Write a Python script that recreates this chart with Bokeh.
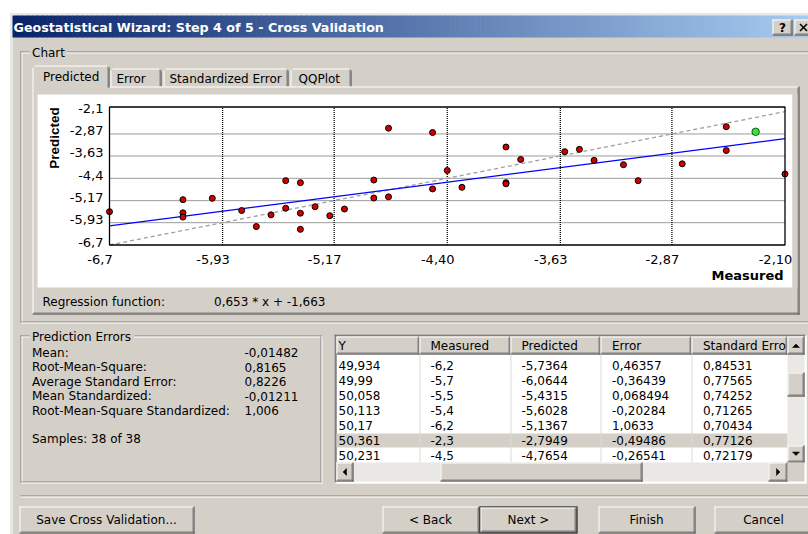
import math
from bokeh.plotting import figure
from bokeh.models import Range1d
from bokeh.core.properties import value
from bokeh.embed import file_html
from bokeh.resources import INLINE

# ---------------- chart data ----------------
measured = [-6.7, -6.2, -6.2, -6.2, -6.0, -5.8, -5.7, -5.6, -5.5, -5.5, -5.4, -5.4, -5.4, -5.3,
            -5.2, -5.1, -4.9, -4.9, -4.8, -4.8, -4.5, -4.5, -4.4, -4.3, -4.0, -4.0, -4.0, -3.9,
            -3.6, -3.5, -3.4, -3.2, -3.1, -2.8, -2.5, -2.5, -2.1]
predicted = [-5.55, -5.1367, -5.59, -5.7364, -5.09, -5.51, -6.0644, -5.66, -4.48, -5.4315, -4.55,
             -5.6028, -6.16, -5.38, -5.69, -5.46, -4.46, -5.08, -2.67, -5.04, -2.82, -4.7654, -4.13,
             -4.71, -3.32, -4.55, -4.59, -3.75, -3.48, -3.40, -3.78, -3.93, -4.48, -3.90, -2.62,
             -3.44, -4.25]
selected_measured = [-2.3]
selected_predicted = [-2.7949]

x_min, x_max = -6.7, -2.1
y_min, y_max = -6.7, -1.94
ticks_x = [-6.7, -5.93, -5.17, -4.40, -3.63, -2.87, -2.10]
tick_labels_x = ["-6,7", "-5,93", "-5,17", "-4,40", "-3,63", "-2,87", "-2,10"]
ticks_y = [-2.1, -2.87, -3.63, -4.4, -5.17, -5.93, -6.7]
tick_labels_y = ["-2,1", "-2,87", "-3,63", "-4,4", "-5,17", "-5,93", "-6,7"]
reg_slope = 0.653
reg_intercept = -1.663
reg_text = "0,653 * x + -1,663"

stat_names = ["Mean:", "Root-Mean-Square:", "Average Standard Error:", "Mean Standardized:",
              "Root-Mean-Square Standardized:"]
stat_values = ["-0,01482", "0,8165", "0,8226", "-0,01211", "1,006"]
samples_text = "Samples: 38 of 38"

table_headers = ["Y", "Measured", "Predicted", "Error", "Standard Erro"]
table_y = ["49,934", "49,99", "50,058", "50,113", "50,17", "50,361", "50,231"]
table_measured = ["-6,2", "-5,7", "-5,5", "-5,4", "-6,2", "-2,3", "-4,5"]
table_predicted = ["-5,7364", "-6,0644", "-5,4315", "-5,6028", "-5,1367", "-2,7949", "-4,7654"]
table_error = ["0,46357", "-0,36439", "0,068494", "-0,20284", "1,0633", "-0,49486", "-0,26541"]
table_stderr = ["0,84531", "0,77565", "0,74252", "0,71265", "0,70434", "0,77126", "0,72179"]
selected_row = 5

# ---------------- styles ----------------
FACE = "#D4D0C8"
DARK = "#404040"
SHADOW = "#808080"
HI = "#FFFFFF"
TRACK = "#EAE8E4"
FONT = "DejaVu Sans"

W, H = 808, 534
p = figure(width=W, height=H, x_range=Range1d(0, W), y_range=Range1d(H, 0),
           x_axis_type=None, y_axis_type=None, toolbar_location=None, output_backend="svg",
           min_border=0, title=None, background_fill_color="white",
           border_fill_color="white", outline_line_color=None)


def box(l, t, r, b, fill, line=None, lw=1):
    p.quad(left=[l], right=[r], top=[t], bottom=[b], fill_color=fill, line_color=line, line_width=lw)


def hl(x0, x1, y, c, w=1):
    p.segment(x0=[x0], y0=[y], x1=[x1], y1=[y], line_color=c, line_width=w)


def vl(x, y0, y1, c, w=1):
    p.segment(x0=[x], y0=[y0], x1=[x], y1=[y1], line_color=c, line_width=w)


def raised(l, t, r, b, fill=FACE):
    box(l, t, r, b, fill)
    hl(l, r, t + 0.5, HI)
    vl(l + 0.5, t, b, HI)
    hl(l, r, b - 0.5, DARK)
    vl(r - 0.5, t, b, DARK)
    hl(l + 1, r - 1, b - 1.5, SHADOW)
    vl(r - 1.5, t + 1, b - 1, SHADOW)


def sunken(l, t, r, b, fill="white"):
    box(l, t, r, b, fill)
    hl(l, r, t + 0.5, SHADOW)
    vl(l + 0.5, t, b, SHADOW)
    hl(l + 1, r - 1, t + 1.5, DARK)
    vl(l + 1.5, t + 1, b - 1, DARK)
    hl(l, r, b - 0.5, HI)
    vl(r - 0.5, t, b, HI)


def etched(l, t, r, b):
    hl(l, r, t + 0.5, SHADOW)
    vl(l + 0.5, t, b, SHADOW)
    hl(l, r, b - 1.5, SHADOW)
    vl(r - 1.5, t, b, SHADOW)
    hl(l + 1, r - 2, t + 1.5, HI)
    vl(l + 1.5, t + 1, b - 2, HI)
    hl(l, r, b - 0.5, HI)
    vl(r - 0.5, t, b, HI)


def txt(x, y, s, size=12, bold=False, color="black", align="left", baseline="middle", font=FONT, angle=0.0):
    p.text(x=[x], y=[y], text=[s], text_font=value(font), text_font_size=f"{size}px",
           text_font_style="bold" if bold else "normal", text_color=color,
           text_align=align, text_baseline=baseline, angle=angle)


def tri(pts, c="black"):
    p.patch(x=[q[0] for q in pts], y=[q[1] for q in pts], fill_color=c, line_color=c, line_width=0.5)


# ---------------- dialog frame ----------------
box(10, 13, 812, 540, FACE)
hl(11, 812, 14.5, HI)
vl(11.5, 14, 540, HI)

# title bar gradient
n = 160
c0 = (10, 36, 106)
c1 = (166, 202, 240)
tx0, tx1 = 12, 808
sw = (tx1 - tx0) / n
lefts = [tx0 + i * sw for i in range(n)]
rights = [tx0 + (i + 1) * sw + 0.6 for i in range(n)]
cols = []
for i in range(n):
    t = i / (n - 1)
    cols.append("#%02x%02x%02x" % tuple(int(round(c0[k] + (c1[k] - c0[k]) * t)) for k in range(3)))
p.quad(left=lefts, right=rights, top=[15] * n, bottom=[37] * n, fill_color=cols, line_color=None)
txt(13, 26.5, "Geostatistical Wizard: Step 4 of 5 - Cross Validation", size=12.7, bold=True, color="white")

raised(772, 19, 792, 35)
txt(782, 27.5, "?", size=12, bold=True, align="center")
raised(794, 19, 814, 35)
p.segment(x0=[799.5, 806.5], y0=[23.5, 23.5], x1=[806.5, 799.5], y1=[30.5, 30.5], line_color="black", line_width=1.6)

# ---------------- Chart group + tabs ----------------
etched(20, 51, 814, 323)
box(29, 44, 66, 59, FACE)
txt(31.5, 52, "Chart")


def tab(l, t, r, b):
    box(l, t, r, b, FACE)
    hl(l + 2, r - 2, t + 0.5, HI)
    vl(l + 0.5, t + 2, b, HI)
    vl(r - 0.5, t + 2, b, DARK)
    vl(r - 1.5, t + 1, b, SHADOW)


tab(110, 68, 161, 87)
tab(163, 68, 288, 87)
tab(290, 68, 351, 87)

box(32, 86, 799, 314, FACE)
hl(32, 799, 86.5, HI)
vl(32.5, 86, 314, HI)
vl(798.5, 86, 314, DARK)
vl(797.5, 87, 313, SHADOW)
hl(32, 799, 313.5, DARK)
hl(33, 798, 312.5, SHADOW)

# selected tab
box(32, 65, 109, 88, FACE)
hl(34, 107, 65.5, HI)
vl(32.5, 67, 88, HI)
vl(108.5, 67, 87, DARK)
vl(107.5, 66, 87, SHADOW)

txt(42.5, 76.5, "Predicted")
txt(116, 78, "Error")
txt(169, 78, "Standardized Error")
txt(298, 78, "QQPlot")

# chart area
box(37, 94, 792, 287, "white")

# ---------------- scatter plot (sub-coordinates) ----------------
xy = p.subplot(x_source=Range1d(x_min, x_max), y_source=Range1d(y_min, y_max),
               x_target=Range1d(109, 784.5), y_target=Range1d(244.5, 106.5))

inner_y = ticks_y[1:-1]
inner_x = ticks_x[1:-1]
xy.segment(x0=[x_min] * len(inner_y), x1=[x_max] * len(inner_y), y0=inner_y, y1=inner_y,
           line_color="#3a3a3a", line_dash="1 1", line_width=1)
xy.segment(x0=inner_x, x1=inner_x, y0=[y_min] * len(inner_x), y1=[y_max] * len(inner_x),
           line_color="#000000", line_dash="1 1", line_width=1.3)

ref_x = [x_min, x_max]
xy.line(x=ref_x, y=ref_x, line_color="#A0A0A0", line_dash="4 3", line_width=1.3)
reg_y = [reg_slope * v + reg_intercept for v in ref_x]
xy.line(x=ref_x, y=reg_y, line_color="#0000FF", line_width=1.3)

xy.scatter(x=measured, y=predicted, size=6, fill_color="#D00000", line_color="#000000", line_width=1)
xy.scatter(x=selected_measured, y=selected_predicted, size=7.5, fill_color="#35E635",
           line_color="#1E5A1E", line_width=1)

xy.quad(left=[x_min], right=[x_max], bottom=[y_min], top=[y_max], fill_color=None,
        line_color="black", line_width=1.3)

xy.text(x=ticks_x, y=[y_min] * len(ticks_x), text=tick_labels_x, x_offset=-9.5, y_offset=14,
        text_font=value(FONT), text_font_size="13px", text_align="center", text_baseline="middle",
        text_color="black")
xy.text(x=[x_min] * len(ticks_y), y=ticks_y, text=tick_labels_y, x_offset=-6, y_offset=-3,
        text_font=value(FONT), text_font_size="13px", text_align="right", text_baseline="middle",
        text_color="black")

txt(53.5, 137.5, "Predicted", size=13.5, bold=True, font="Liberation Sans", align="center", angle=math.pi / 2)
txt(783, 275, "Measured", size=13, bold=True, align="right")

# cover the right edge of the chart area (clips the last tick label as in the original)
box(792, 94, 797, 287, FACE)

txt(42, 301, "Regression function:")
txt(213.5, 301, reg_text)

# ---------------- Prediction errors ----------------
etched(20, 335, 322, 483)
box(29, 328, 134, 343, FACE)
txt(31.5, 336, "Prediction Errors")
stat_rows_y = [352, 366.5, 381, 395.5, 410]
for nm, vv, yy in zip(stat_names, stat_values, stat_rows_y):
    txt(31.5, yy, nm)
    txt(244, yy, vv)
txt(31.5, 438.5, samples_text)

# ---------------- table ----------------
sunken(334, 334, 806, 483, "white")
col_edges = [336, 419, 510, 600, 691, 787]
text_x = [338, 430, 521, 611.5, 702.5]
for i, h in enumerate(table_headers):
    raised(col_edges[i], 336, col_edges[i + 1], 354)
    txt(text_x[i], 345.5, h)

row_y = [365 + 15 * i for i in range(len(table_y))]
box(336, row_y[selected_row] - 7, 787, row_y[selected_row] + 7, FACE)
for xe in col_edges[1:-1]:
    vl(xe + 0.5, 354, 462, "#DCDAD4")
cols_data = [table_y, table_measured, table_predicted, table_error, table_stderr]
for ci, colvals in enumerate(cols_data):
    for ri, sv in enumerate(colvals):
        txt(text_x[ci], row_y[ri], sv)

# vertical scrollbar
box(787, 336, 804, 462, TRACK)
raised(787, 336, 804, 354)
tri([(792, 347), (799, 347), (795.5, 343.5)])
raised(787, 372, 804, 396)
raised(787, 445, 804, 462)
tri([(792, 451.5), (799, 451.5), (795.5, 455)])

# horizontal scrollbar
box(336, 462, 787, 481, TRACK)
raised(336, 462, 353, 481)
tri([(346, 468), (346, 475), (342.5, 471.5)])
raised(440, 462, 642, 481)
raised(768, 462, 787, 481)
tri([(776, 468), (776, 475), (779.5, 471.5)])
box(787, 462, 804, 481, FACE)

# ---------------- separator + buttons ----------------
hl(20, 814, 495.5, SHADOW)
hl(20, 814, 496.5, HI)

raised(19, 506, 194, 533)
txt(106, 519, "Save Cross Validation...", align="center")
raised(382, 506, 479, 533)
txt(430, 519, "< Back", align="center")
box(479, 506, 577, 533, "black")
raised(480, 507, 576, 532)
txt(528, 519, "Next >", align="center")
raised(598, 506, 695, 533)
txt(646, 519, "Finish", align="center")
raised(714, 506, 811, 533)
txt(763, 519, "Cancel", align="center")

open("out.html", "w").write(file_html(p, INLINE))
